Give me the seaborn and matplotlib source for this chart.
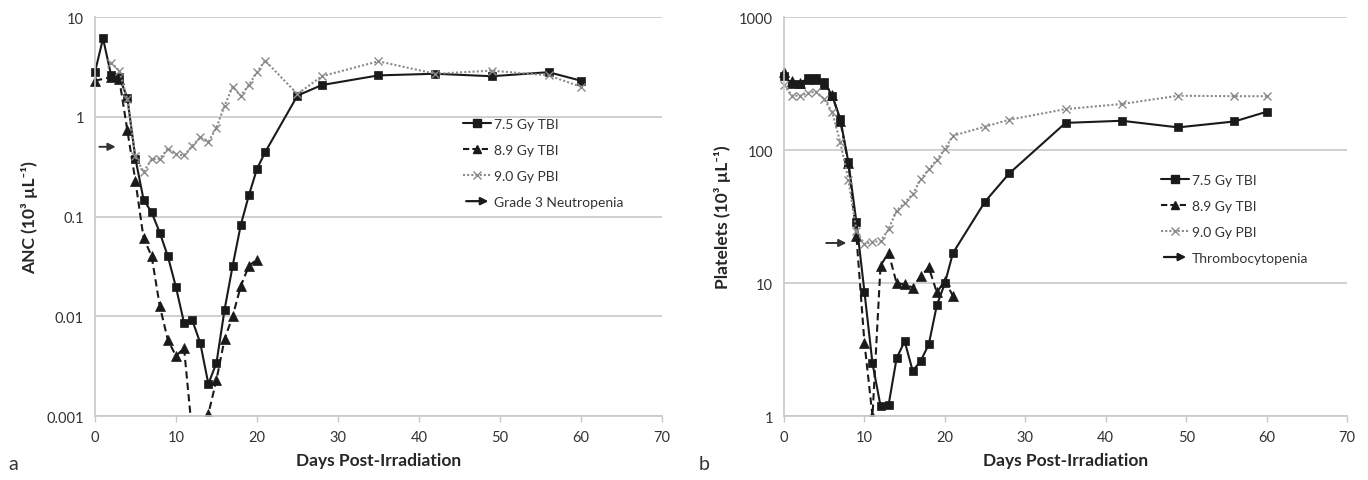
import numpy as np
import pandas as pd
import seaborn as sns
import matplotlib
matplotlib.use('Agg')
from matplotlib import pyplot as plt
from matplotlib.lines import Line2D
from matplotlib.patches import FancyArrowPatch
from matplotlib.legend_handler import HandlerBase
from matplotlib.transforms import Bbox, TransformedBbox

# ---- panel a: ANC ----
days_a_tbi75 = [0, 1, 2, 3, 4, 5, 6, 7, 8, 9, 10, 11, 12, 13, 14, 15, 16, 17, 18, 19, 20, 21,
                25, 28, 35, 42, 49, 56, 60]
anc_tbi75 = [2.8, 6.1, 2.6, 2.5, 1.55, 0.38, 0.148, 0.11, 0.069, 0.040, 0.0196, 0.0086, 0.0092,
             0.0054, 0.0021, 0.0034, 0.0116, 0.032, 0.082, 0.163, 0.30, 0.44,
             1.63, 2.08, 2.6, 2.7, 2.55, 2.8, 2.3]

days_a_tbi89 = [0, 2, 3, 4, 5, 6, 7, 8, 9, 10, 11, 12, 14, 15, 16, 17, 18, 19, 20]
anc_tbi89 = [2.3, 2.5, 2.4, 0.73, 0.227, 0.061, 0.040, 0.0127, 0.0058, 0.0040, 0.0048, 0.00068,
             0.00105, 0.0023, 0.0059, 0.010, 0.020, 0.032, 0.037]

days_a_pbi90 = [2, 3, 4, 5, 6, 7, 8, 9, 10, 11, 12, 13, 14, 15, 16, 17, 18, 19, 20, 21,
                25, 28, 35, 42, 49, 56, 60]
anc_pbi90 = [3.5, 2.9, 1.5, 0.40, 0.28, 0.375, 0.38, 0.48, 0.42, 0.41, 0.51, 0.62, 0.56, 0.78,
             1.29, 2.0, 1.63, 2.08, 2.8, 3.66, 1.69, 2.55, 3.6, 2.7, 2.9, 2.6, 2.0]

# ---- panel b: platelets ----
days_b_tbi75 = list(range(22)) + [25, 28, 35, 42, 49, 56, 60]
plt_tbi75 = [362, 313, 313, 348, 348, 322, 256, 171, 81, 28.8, 8.6, 2.49, 1.19, 1.21, 2.72,
             3.65, 2.18, 2.6, 3.46, 6.8, 9.96, 16.8, 41, 66.7, 160, 166, 148, 164, 194]

days_b_tbi89 = list(range(22))
plt_tbi89 = [388, 330, 320, 345, 345, 315, 260, 165, 80, 22.6, 3.56, 1.0, 13.5, 16.9, 9.96,
             9.8, 9.25, 11.3, 13.1, 8.5, 10.4, 8.0]

days_b_pbi90 = list(range(22)) + [25, 28, 35, 42, 49, 56, 60]
plt_pbi90 = [308, 256, 256, 268, 275, 241, 192, 114, 60, 24.6, 19.6, 20.4, 20.6, 25.4, 34.9,
             40.3, 46.5, 60.4, 71.8, 84.5, 101.7, 128, 150, 169, 203, 222, 256, 254, 254]

series_labels = ['7.5 Gy TBI', '8.9 Gy TBI', '9.0 Gy PBI']
anc_threshold = 0.5
plt_threshold = 20

sns.set_style('white')
plt.rcParams['font.family'] = ['Lato', 'DejaVu Sans']

DARK = '#1a1a1a'
GRAY = '#8a8a8a'
GRID = '#c8c8c8'


class ArrowHandler(HandlerBase):
    def create_artists(self, legend, orig_handle, xdescent, ydescent, width, height,
                       fontsize, trans):
        y = height / 2 - ydescent
        arr = FancyArrowPatch((-xdescent, y), (-xdescent + width, y), arrowstyle='-|>',
                              mutation_scale=11, color=DARK, lw=1.6, transform=trans)
        return [arr]


def draw_panel(ax, d75, v75, d89, v89, dpb, vpb, ylim, yticks, ylabels, thr, thr_days,
               ylab, thr_label, leg_anchor):
    ax.set_yscale('log')
    sns.lineplot(x=d75, y=v75, ax=ax, estimator=None, color=DARK, lw=1.5, marker='s',
                 markersize=6, markeredgecolor=DARK, markeredgewidth=0.5)
    sns.lineplot(x=d89, y=v89, ax=ax, estimator=None, color=DARK, lw=1.5, marker='^',
                 markersize=6.5, markeredgecolor=DARK, markeredgewidth=0.5,
                 linestyle=(0, (3.5, 2)))
    sns.lineplot(x=dpb, y=vpb, ax=ax, estimator=None, color=GRAY, lw=1.5, marker='x',
                 markersize=6, markeredgecolor=GRAY, markeredgewidth=1.0,
                 linestyle=(0, (1, 1)))
    # clip only at the bottom so the day-0 markers stay whole
    clip = TransformedBbox(Bbox([[-0.05, 0], [1.05, 1.05]]), ax.transAxes)
    for ln in ax.lines:
        ln.set_clip_box(clip)
    ax.annotate('', xy=(thr_days[1], thr), xytext=(thr_days[0], thr),
                arrowprops=dict(arrowstyle='-|>', color='#333333', lw=1.4, mutation_scale=11))

    ax.set_xlim(0, 70)
    ax.set_ylim(*ylim)
    ax.set_xticks(range(0, 71, 10))
    ax.set_xticklabels([str(v) for v in range(0, 71, 10)], fontsize=10.5, color='#333333')
    ax.set_yticks(yticks)
    ax.set_yticklabels(ylabels, fontsize=10.5, color='#333333')
    ax.yaxis.set_minor_locator(matplotlib.ticker.NullLocator())
    ax.grid(axis='y', color=GRID, lw=1.2)
    ax.grid(axis='x', visible=False)
    for s in ['top', 'right']:
        ax.spines[s].set_visible(False)
    for s in ['left', 'bottom']:
        ax.spines[s].set_color(GRID)
        ax.spines[s].set_linewidth(1.2)
    ax.tick_params(axis='x', which='major', length=4, width=1, color=GRID, direction='out',
                   bottom=True, pad=6)
    ax.tick_params(axis='y', length=0, pad=8)
    ax.set_xlabel('Days Post-Irradiation', fontsize=12.5, fontweight='bold', labelpad=6)
    ax.set_ylabel(ylab, fontsize=12.5, fontweight='bold', labelpad=6)

    handles = [
        Line2D([], [], color=DARK, lw=1.5, marker='s', markersize=5.5),
        Line2D([], [], color=DARK, lw=1.5, marker='^', markersize=6, linestyle=(0, (3, 1.5))),
        Line2D([], [], color=GRAY, lw=1.5, marker='x', markersize=5.5, linestyle=(0, (1, 1))),
        'arrow',
    ]
    leg = ax.legend(handles, series_labels + [thr_label], loc='upper left',
                    bbox_to_anchor=leg_anchor, frameon=False, fontsize=10,
                    handlelength=2.0, handletextpad=0.2, labelspacing=1.0,
                    borderaxespad=0, handler_map={str: ArrowHandler()})
    for t in leg.get_texts():
        t.set_color('#333333')


fig = plt.figure(figsize=(13.68, 4.81), dpi=100)
ax_a = fig.add_axes([0.0694, 0.133, 0.4145, 0.8295])
ax_b = fig.add_axes([0.5731, 0.133, 0.4116, 0.8295])

draw_panel(ax_a, days_a_tbi75, anc_tbi75, days_a_tbi89, anc_tbi89, days_a_pbi90, anc_pbi90,
           (0.001, 10), [0.001, 0.01, 0.1, 1, 10], ['0.001', '0.01', '0.1', '1', '10'],
           anc_threshold, (0.2, 2.9), 'ANC (10³ µL⁻¹)', 'Grade 3 Neutropenia',
           (0.64, 0.76))
draw_panel(ax_b, days_b_tbi75, plt_tbi75, days_b_tbi89, plt_tbi89, days_b_pbi90, plt_pbi90,
           (1, 1000), [1, 10, 100, 1000], ['1', '10', '100', '1000'],
           plt_threshold, (4.9, 8.1), 'Platelets (10³ µL⁻¹)', 'Thrombocytopenia',
           (0.66, 0.62))

fig.text(0.006, 0.022, 'a', fontsize=14, color='#333333')
fig.text(0.511, 0.022, 'b', fontsize=14, color='#333333')

fig.savefig('out.png', dpi=100)
